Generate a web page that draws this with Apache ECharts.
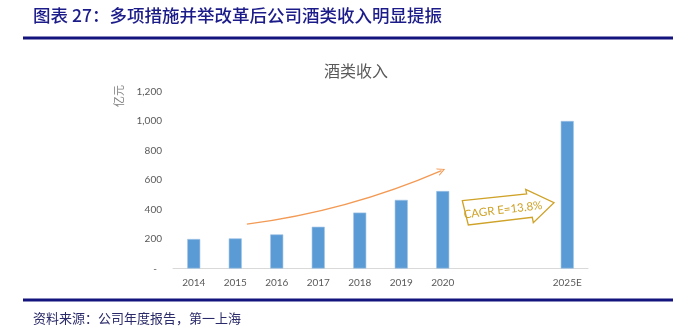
<!DOCTYPE html>
<html>
<head>
<meta charset="utf-8">
<script src="https://cdn.jsdelivr.net/npm/echarts@6/dist/echarts.min.js"></script>
<style>
html,body{margin:0;padding:0;background:#fff;}
#c{width:690px;height:331px;}
</style>
</head>
<body>
<div id="c"></div>
<script>
// ---- data ----
var categories = ['2014','2015','2016','2017','2018','2019','2020','','','2025E'];
var revenue = [200, 204, 231, 283, 379, 465, 525, null, null, 1000];
var yTicks = [0, 200, 400, 600, 800, 1000, 1200];
// trend arrow (category index, value)
var trendStart = [1.28, 301];
var trendEnd = [5.97, 664];
var cagrText = 'CAGR E=13.8%';
var figTitle = '图表 27：多项措施并举改革后公司酒类收入明显提振';
var chartTitle = '酒类收入';
var unitText = '亿元';
var sourceText = '资料来源：公司年度报告，第一上海';

var chart = echarts.init(document.getElementById('c'));
var sans = 'Lato, "Noto Sans CJK SC", sans-serif';
var cjk = '"Noto Sans CJK SC", sans-serif';
var navy = '#1b1b8a';
var gold = '#cfa228';

var option = {
  animation: false,
  backgroundColor: '#ffffff',
  title: {
    text: chartTitle,
    left: 351, top: 58, textAlign: 'center',
    textStyle: {fontFamily: cjk, fontSize: 16, fontWeight: 'normal', color: '#595959'}
  },
  grid: {left: 173, top: 91.5, width: 415, height: 177},
  xAxis: [{
    type: 'category', data: categories,
    axisLine: {lineStyle: {color: '#d9d9d9', width: 1}},
    axisTick: {show: false},
    axisLabel: {color: '#595959', fontFamily: sans, fontSize: 10, margin: 9, interval: 0}
  }, {
    type: 'value', min: -0.5, max: 9.5, show: false
  }],
  yAxis: {
    type: 'value', min: 0, max: 1200, interval: 200,
    axisLine: {show: false}, axisTick: {show: false}, splitLine: {show: false},
    axisLabel: {
      color: '#595959', fontFamily: sans, fontSize: 10, margin: 11,
      formatter: function (v) { return v === 0 ? '-  ' : v.toLocaleString('en-US'); }
    }
  },
  series: [{
    type: 'bar', data: revenue, barWidth: 13,
    itemStyle: {color: '#5b9bd5', borderColor: '#9dc3e6', borderWidth: 0.6}
  }, {
    type: 'lines', coordinateSystem: 'cartesian2d', xAxisIndex: 1, yAxisIndex: 0,
    symbol: ['none', 'path://M0,10 L5,0 L10,10 L8.6,10 L5,2.8 L1.4,10 Z'],
    symbolSize: [8, 8],
    lineStyle: {color: '#f39a55', width: 1.3, curveness: -0.07, opacity: 1},
    data: [{coords: [trendStart, trendEnd]}],
    silent: true
  }],
  graphic: [
    {type: 'text', left: 33, top: 7, style: {text: figTitle, fill: navy, font: '500 17.5px ' + cjk}},
    {type: 'rect', shape: {x: 23, y: 36.5, width: 650, height: 3}, style: {fill: '#14147f'}},
    {type: 'rect', shape: {x: 23, y: 298.5, width: 650, height: 3}, style: {fill: '#14147f'}},
    {type: 'text', left: 33, top: 312, style: {text: sourceText, fill: '#2a2a6a', font: '13px ' + cjk}},
    {type: 'text', x: 119, y: 96, rotation: Math.PI / 2,
     style: {text: unitText, fill: '#7f7f7f', font: '11px ' + cjk, align: 'center', verticalAlign: 'middle'}},
    {type: 'polygon',
     shape: {points: [[462.3,200.7],[526.7,194],[525.7,189.3],[554,202.7],[533.3,222.7],[532.3,217.3],[468.3,225]]},
     style: {fill: '#ffffff', stroke: gold, lineWidth: 1.3}},
    {type: 'text', x: 503, y: 210, rotation: 0.12,
     style: {text: cagrText, fill: gold, font: '11.5px ' + sans, align: 'center', verticalAlign: 'middle'}}
  ]
};
chart.setOption(option);
</script>
</body>
</html>
